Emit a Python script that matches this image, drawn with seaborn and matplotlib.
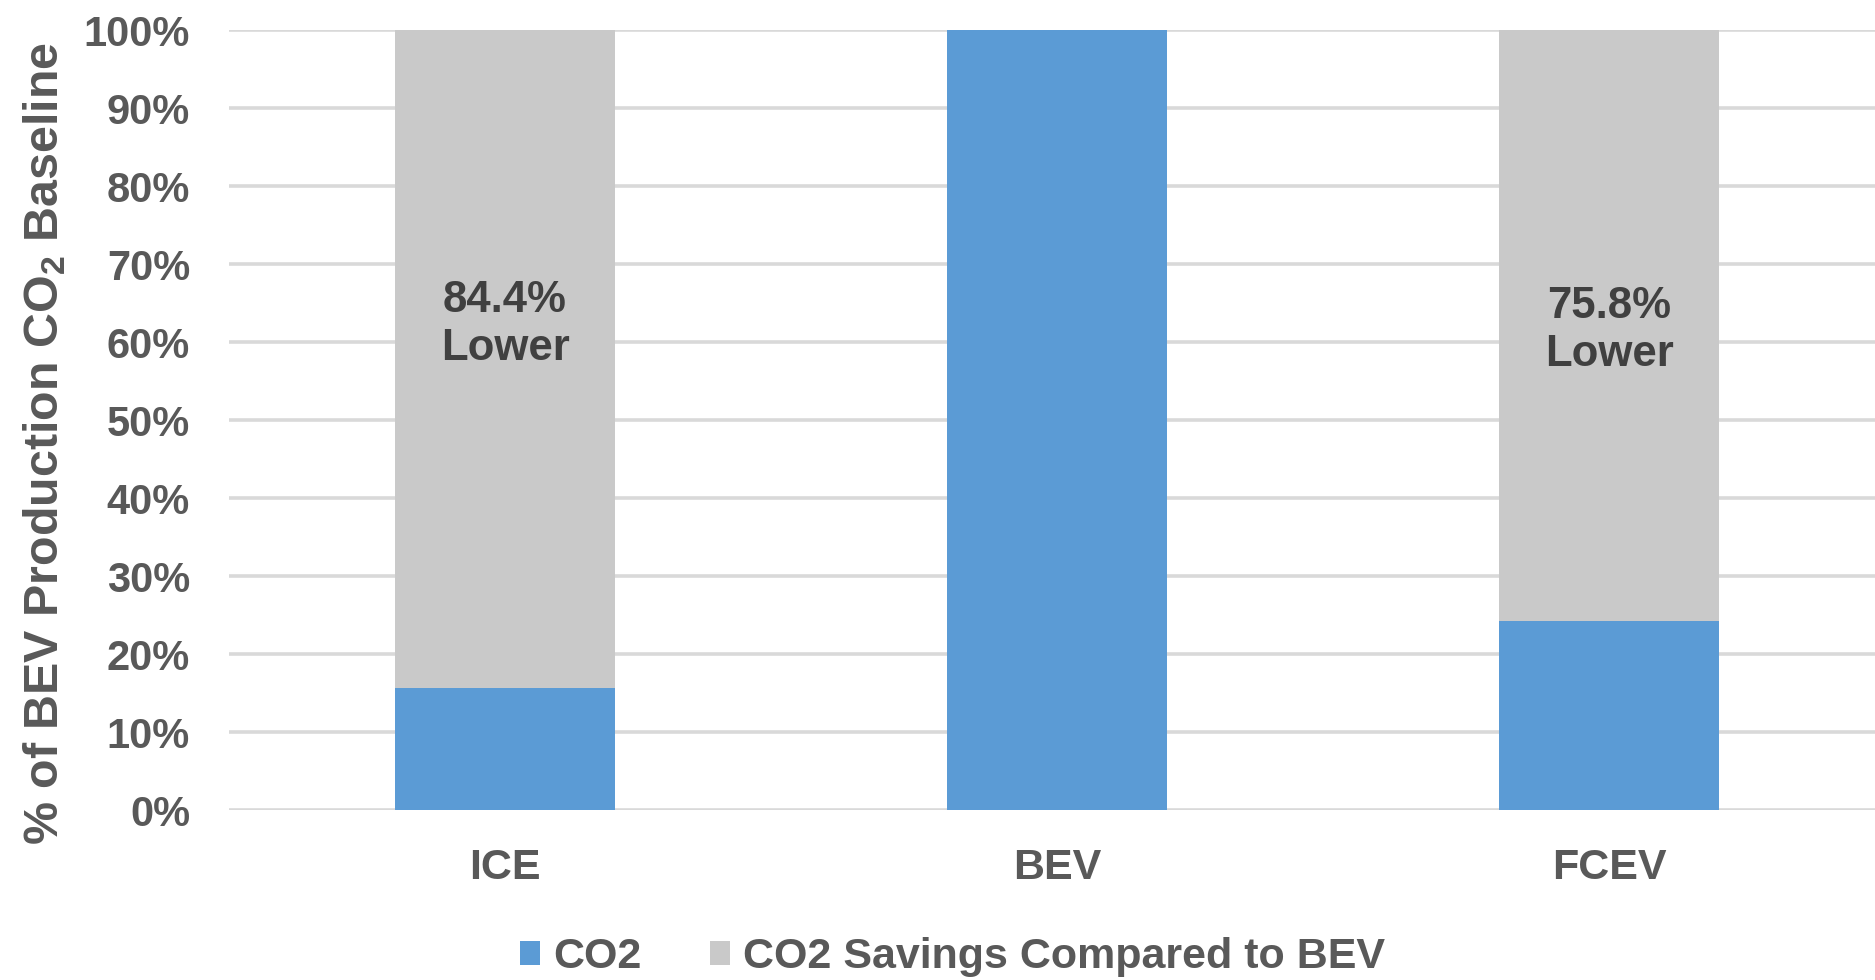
import matplotlib
matplotlib.use("Agg")
import matplotlib.pyplot as plt
import seaborn as sns
import pandas as pd
from matplotlib.patches import Patch
from matplotlib.ticker import FuncFormatter

categories = ["ICE", "BEV", "FCEV"]
co2 = [15.6, 100.0, 24.2]
savings = [84.4, 0.0, 75.8]
annotations = ["84.4%\nLower", "", "75.8%\nLower"]
annot_y = [62.3, None, 61.5]
yticks = [0, 10, 20, 30, 40, 50, 60, 70, 80, 90, 100]
legend_labels = ["CO2", "CO2 Savings Compared to BEV"]

BLUE = "#5B9BD5"
GREY = "#C9C9C9"
TXT = "#595959"

sns.set_theme(style="white")
plt.rcParams["font.family"] = ["Liberation Sans", "DejaVu Sans"]
plt.rcParams["font.weight"] = "bold"
plt.rcParams["mathtext.fontset"] = "custom"
plt.rcParams["mathtext.rm"] = "Liberation Sans:bold"
plt.rcParams["mathtext.bf"] = "Liberation Sans:bold"
plt.rcParams["mathtext.it"] = "Liberation Sans:bold"

df = pd.DataFrame({"cat": categories, "co2": co2,
                   "total": [c + s for c, s in zip(co2, savings)]})

fig = plt.figure(figsize=(18.75, 9.8), dpi=100)
ax = fig.add_axes([229 / 1875, 170 / 980, 1656 / 1875, 780 / 980])

sns.barplot(data=df, x="cat", y="total", color=GREY, width=0.4,
            saturation=1, ax=ax, zorder=2, linewidth=0)
sns.barplot(data=df, x="cat", y="co2", color=BLUE, width=0.4,
            saturation=1, ax=ax, zorder=3, linewidth=0)

ax.set_xlim(-0.5, 2.5)
ax.set_ylim(0, 100)
ax.set_yticks(yticks)
ax.yaxis.set_major_formatter(FuncFormatter(lambda v, p: f"{v:.0f}%"))
ax.grid(axis="y", color="#D9D9D9", linewidth=2.6, zorder=0)
ax.set_axisbelow(True)
for s in ax.spines.values():
    s.set_visible(False)

ax.tick_params(axis="y", length=0, pad=28, labelsize=30, labelcolor=TXT)
ax.tick_params(axis="x", length=0, pad=27, labelsize=31, labelcolor=TXT)
for lab in ax.get_xticklabels() + ax.get_yticklabels():
    lab.set_fontweight("bold")

ax.set_xlabel("")
ax.set_ylabel("% of BEV Production CO$_2$ Baseline", fontsize=34.8,
              color=TXT, fontweight="bold")
ax.yaxis.set_label_coords(-0.097, 0.47)

for i, (txt, y) in enumerate(zip(annotations, annot_y)):
    if txt:
        ax.text(i, y, txt, ha="center", va="center", fontsize=31.5,
                color="#404040", fontweight="bold", linespacing=1.22,
                multialignment="center", zorder=4)

handles = [Patch(facecolor=BLUE, edgecolor="none"),
           Patch(facecolor=GREY, edgecolor="none")]
fig.legend(handles, legend_labels, loc="center", ncol=2,
           bbox_to_anchor=(0.508, 0.0235), frameon=False,
           prop={"size": 31, "weight": "bold"}, labelcolor=TXT,
           handlelength=0.47, handleheight=0.47, handletextpad=0.3,
           columnspacing=1.6, borderpad=0)

fig.savefig("out.png", dpi=100)
